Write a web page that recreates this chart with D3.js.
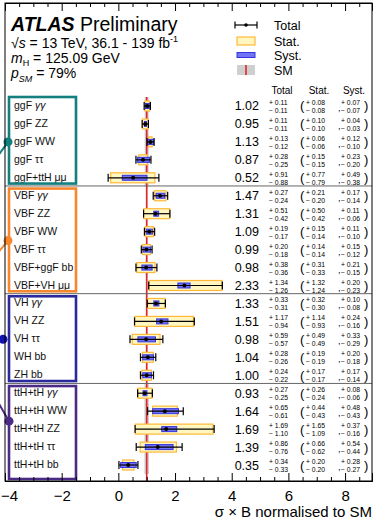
<!DOCTYPE html>
<html>
<head>
<meta charset="utf-8">
<script src="https://cdn.jsdelivr.net/npm/d3@7"></script>
<style>
  body { margin: 0; background: #fff; }
  svg { display: block; font-family: "Liberation Sans", Arial, Helvetica, sans-serif; }
</style>
</head>
<body>
<svg id="chart" width="374" height="520"></svg>
<script>
// measurements, top to bottom
const labels = [
  'ggF γγ', 'ggF ZZ', 'ggF WW', 'ggF ττ', 'ggF+ttH μμ',
  'VBF γγ', 'VBF ZZ', 'VBF WW', 'VBF ττ', 'VBF+ggF bb', 'VBF+VH μμ',
  'VH γγ', 'VH ZZ', 'VH ττ', 'WH bb', 'ZH bb',
  'ttH+tH γγ', 'ttH+tH WW', 'ttH+tH ZZ', 'ttH+tH ττ', 'ttH+tH bb'
];
const central = [1.02, 0.95, 1.13, 0.87, 0.52, 1.47, 1.31, 1.09, 0.99, 0.98, 2.33,
                 1.33, 1.51, 0.98, 1.04, 1.00, 0.93, 1.64, 1.69, 1.39, 0.35];
const totUp  = [0.11, 0.11, 0.13, 0.28, 0.91, 0.27, 0.51, 0.19, 0.20, 0.38, 1.34,
                0.33, 1.17, 0.59, 0.28, 0.24, 0.27, 0.65, 1.69, 0.86, 0.34];
const totDn  = [0.11, 0.11, 0.12, 0.25, 0.88, 0.24, 0.42, 0.17, 0.18, 0.36, 1.26,
                0.31, 0.94, 0.57, 0.26, 0.22, 0.25, 0.61, 1.10, 0.76, 0.33];
const statUp = [0.08, 0.10, 0.06, 0.15, 0.77, 0.21, 0.50, 0.15, 0.14, 0.31, 1.32,
                0.32, 1.14, 0.49, 0.19, 0.17, 0.26, 0.44, 1.65, 0.66, 0.20];
const statDn = [0.08, 0.10, 0.06, 0.15, 0.79, 0.20, 0.42, 0.14, 0.14, 0.33, 1.24,
                0.30, 0.93, 0.49, 0.19, 0.17, 0.24, 0.43, 1.09, 0.62, 0.20];
const systUp = [0.07, 0.04, 0.12, 0.23, 0.49, 0.17, 0.11, 0.11, 0.15, 0.21, 0.20,
                0.10, 0.24, 0.33, 0.20, 0.17, 0.08, 0.48, 0.37, 0.54, 0.28];
const systDn = [0.07, 0.03, 0.10, 0.20, 0.38, 0.14, 0.06, 0.10, 0.12, 0.15, 0.23,
                0.08, 0.16, 0.29, 0.18, 0.14, 0.06, 0.43, 0.16, 0.44, 0.27];
// SM prediction uncertainty (grey band), estimated
const smUnc  = [0.07, 0.07, 0.07, 0.07, 0.07, 0.03, 0.03, 0.03, 0.03, 0.04, 0.03,
                0.03, 0.03, 0.03, 0.03, 0.03, 0.08, 0.08, 0.08, 0.08, 0.08];

const groupNames = ['ggF', 'VBF', 'VH', 'ttH'];
const groupSizes = [5, 6, 5, 5];
const groupColors = ['#13807f', '#f7872e', '#2b2a9c', '#4b2b86'];

const xTicks = [-4, -2, 0, 2, 4, 6, 8];

const svg = d3.select('#chart');
const font = '"Liberation Sans", Arial, Helvetica, sans-serif';
const axisY = 481, topY = 3;

const x = d3.scaleLinear().domain([-4, 8.95]).range([5, 372]);
const y = d3.scaleBand().domain(d3.range(labels.length)).range([97, 474]);
const cy = i => y(i) + y.bandwidth() / 2;
const f2 = d3.format('.2f');

// group start indices
const groupStart = groupSizes.map((s, i) => d3.sum(groupSizes.slice(0, i)));

// SM grey band and red line
svg.append('g').selectAll('rect')
  .data(d3.range(labels.length))
  .join('rect')
  .attr('x', i => x(1 - smUnc[i]))
  .attr('width', i => x(1 + smUnc[i]) - x(1 - smUnc[i]))
  .attr('y', i => y(i))
  .attr('height', y.bandwidth())
  .attr('fill', '#cfcfcf');

svg.append('line')
  .attr('x1', x(1)).attr('x2', x(1))
  .attr('y1', y(0)).attr('y2', axisY)
  .attr('stroke', '#e3262a').attr('stroke-width', 1.6);

// group separators
svg.append('g').selectAll('line')
  .data(groupStart.slice(1))
  .join('line')
  .attr('x1', x.range()[0]).attr('x2', x.range()[1])
  .attr('y1', s => y(s) - 0.8).attr('y2', s => y(s) - 0.8)
  .attr('stroke', '#666').attr('stroke-width', 1);

// measurement marks
const rows = svg.append('g').selectAll('g')
  .data(d3.range(labels.length))
  .join('g');

rows.append('rect')
  .attr('x', i => x(central[i] - statDn[i]))
  .attr('width', i => x(central[i] + statUp[i]) - x(central[i] - statDn[i]))
  .attr('y', i => cy(i) - 5)
  .attr('height', 10)
  .attr('fill', '#fff6c0')
  .attr('stroke', '#ffb938')
  .attr('stroke-width', 1.2);

rows.append('rect')
  .attr('x', i => x(central[i] - systDn[i]))
  .attr('width', i => x(central[i] + systUp[i]) - x(central[i] - systDn[i]))
  .attr('y', i => cy(i) - 2.5)
  .attr('height', 5)
  .attr('fill', '#7272f4')
  .attr('stroke', '#3434e0')
  .attr('stroke-width', 1);

rows.append('line')
  .attr('x1', i => x(central[i] - totDn[i]))
  .attr('x2', i => x(central[i] + totUp[i]))
  .attr('y1', cy).attr('y2', cy)
  .attr('stroke', '#000').attr('stroke-width', 1.2);

['lo', 'hi'].forEach(side => {
  rows.append('line')
    .attr('x1', i => side === 'lo' ? x(central[i] - totDn[i]) : x(central[i] + totUp[i]))
    .attr('x2', i => side === 'lo' ? x(central[i] - totDn[i]) : x(central[i] + totUp[i]))
    .attr('y1', i => cy(i) - 4).attr('y2', i => cy(i) + 4)
    .attr('stroke', '#000').attr('stroke-width', 1.2);
});

rows.append('circle')
  .attr('cx', i => x(central[i]))
  .attr('cy', cy)
  .attr('r', 2)
  .attr('fill', '#000');

// row labels
const lab = svg.append('g').selectAll('text')
  .data(d3.range(labels.length))
  .join('text')
  .attr('x', 14)
  .attr('y', i => cy(i) + 3)
  .attr('font-size', 10.5)
  .attr('fill', '#111');
lab.each(function (i) {
  const t = d3.select(this);
  const s = labels[i];
  if (s.endsWith('γγ')) {
    t.append('tspan').text(s.slice(0, -2));
    t.append('tspan').attr('font-style', 'italic').text('γγ');
  } else {
    t.text(s);
  }
});

// value columns
const vals = svg.append('g').selectAll('g')
  .data(d3.range(labels.length))
  .join('g')
  .attr('transform', i => `translate(0,${cy(i)})`);

vals.append('text').attr('x', 259).attr('y', 4.5).attr('text-anchor', 'end')
  .attr('font-size', 12.5).text(i => f2(central[i]));

const small = (sel, xPos, up, dn) => {
  sel.append('text').attr('x', xPos).attr('y', -1).attr('font-size', 6.8)
    .text(i => '+ ' + f2(up[i]));
  sel.append('text').attr('x', xPos).attr('y', 7).attr('font-size', 6.8)
    .text(i => '− ' + f2(dn[i]));
};
small(vals, 269, totUp, totDn);
small(vals, 306, statUp, statDn);
small(vals, 341, systUp, systDn);

vals.append('text').attr('x', 300).attr('y', 4.5).attr('font-size', 13).text('(');
vals.append('text').attr('x', 338).attr('y', 5).attr('font-size', 9).text(',');
vals.append('text').attr('x', 364).attr('y', 4.5).attr('font-size', 13).text(')');

svg.append('g').selectAll('text')
  .data([['Total', 282], ['Stat.', 319], ['Syst.', 354]])
  .join('text')
  .attr('x', d => d[1]).attr('y', 94)
  .attr('text-anchor', 'middle')
  .attr('font-size', 10)
  .text(d => d[0]);

// group boxes
const boxTop = k => k === 0 ? y(0) : y(groupStart[k]) + 1.8;
const boxBot = k => k === groupNames.length - 1 ? axisY - 2 : y(groupStart[k + 1]) - 3.2;
svg.append('g').selectAll('rect')
  .data(groupNames)
  .join('rect')
  .attr('x', 9)
  .attr('width', 67)
  .attr('y', (g, k) => boxTop(k))
  .attr('height', (g, k) => boxBot(k) - boxTop(k))
  .attr('fill', 'none')
  .attr('stroke', (g, k) => groupColors[k])
  .attr('stroke-width', 2.6);

// connectors going out to the left
const connY = [cy(2), (cy(7) + cy(8)) / 2, cy(13), (cy(17) + cy(18)) / 2 + 1];
const connX = [8, 8, 3, 9];
const connEndDy = [14, 12, 0, -19];
groupNames.forEach((g, k) => {
  svg.append('line')
    .attr('x1', connX[k]).attr('y1', connY[k])
    .attr('x2', -2).attr('y2', connY[k] + connEndDy[k])
    .attr('stroke', groupColors[k]).attr('stroke-width', 2);
  svg.append('circle')
    .attr('cx', connX[k]).attr('cy', connY[k]).attr('r', 4.5)
    .attr('fill', k === 2 ? '#1414b0' : groupColors[k]);
});

// frame and axes
svg.append('rect')
  .attr('x', x.range()[0]).attr('y', topY)
  .attr('width', x.range()[1] - x.range()[0])
  .attr('height', axisY - topY)
  .attr('fill', 'none').attr('stroke', '#000').attr('stroke-width', 1);

const minor = d3.range(-4, 9, 0.5).filter(v => v % 2 !== 0);

const bottomAxis = svg.append('g').attr('transform', `translate(0,${axisY})`);
bottomAxis.call(d3.axisBottom(x).tickValues(xTicks).tickSize(-8).tickPadding(9));
bottomAxis.append('g').call(d3.axisBottom(x).tickValues(minor).tickSize(-4).tickFormat(''));
bottomAxis.selectAll('.domain').attr('stroke', '#000');
bottomAxis.selectAll('text').attr('font-size', 15).attr('font-family', font).attr('fill', '#000');
// leftmost label sits on the frame edge: keep it inside the page
bottomAxis.selectAll('.tick text').filter(d => d === -4)
  .attr('text-anchor', 'start').attr('x', 0.5 - x(-4));

const topAxis = svg.append('g').attr('transform', `translate(0,${topY})`);
topAxis.call(d3.axisTop(x).tickValues(xTicks).tickSize(-8).tickFormat(''));
topAxis.append('g').call(d3.axisTop(x).tickValues(minor).tickSize(-4).tickFormat(''));

svg.append('text')
  .attr('x', 372).attr('y', 517)
  .attr('text-anchor', 'end')
  .attr('font-size', 15)
  .text('σ × B normalised to SM');

// header
const hdr = svg.append('g');
const t1 = hdr.append('text').attr('x', 11).attr('y', 31).attr('font-size', 19.5);
t1.append('tspan').attr('font-weight', 'bold').attr('font-style', 'italic').text('ATLAS');
t1.append('tspan').text(' Preliminary');

const t2 = hdr.append('text').attr('x', 11).attr('y', 48).attr('font-size', 14);
t2.append('tspan').text('√');
t2.append('tspan').attr('font-style', 'italic').text('s');
t2.append('tspan').text(' = 13 TeV, 36.1 - 139 fb');
t2.append('tspan').attr('font-size', 9).attr('dy', -6).text('-1');

const t3 = hdr.append('text').attr('x', 11).attr('y', 63).attr('font-size', 14);
t3.append('tspan').attr('font-style', 'italic').text('m');
t3.append('tspan').attr('font-size', 9).attr('dy', 3).text('H');
t3.append('tspan').attr('dy', -3).text(' = 125.09 GeV');

const t4 = hdr.append('text').attr('x', 11).attr('y', 78).attr('font-size', 14);
t4.append('tspan').attr('font-style', 'italic').text('p');
t4.append('tspan').attr('font-size', 9).attr('font-style', 'italic').attr('dy', 4).text('SM');
t4.append('tspan').attr('dy', -4).text(' = 79%');

// legend
const lg = svg.append('g');
const lx0 = 235, lx1 = 257, ltx = 274;
const legY = [25, 41, 55, 70];
lg.append('line').attr('x1', lx0).attr('x2', lx1).attr('y1', legY[0]).attr('y2', legY[0])
  .attr('stroke', '#000').attr('stroke-width', 1.2);
[lx0, lx1].forEach(v => lg.append('line').attr('x1', v).attr('x2', v)
  .attr('y1', legY[0] - 3.5).attr('y2', legY[0] + 3.5).attr('stroke', '#000').attr('stroke-width', 1.2));
lg.append('circle').attr('cx', (lx0 + lx1) / 2).attr('cy', legY[0]).attr('r', 1.8).attr('fill', '#000');
lg.append('rect').attr('x', lx0 + 2).attr('y', legY[1] - 4).attr('width', 18).attr('height', 8)
  .attr('fill', '#fff6c0').attr('stroke', '#ffb938').attr('stroke-width', 1.2);
lg.append('rect').attr('x', lx0 + 2).attr('y', legY[2] - 2.5).attr('width', 18).attr('height', 5)
  .attr('fill', '#7272f4').attr('stroke', '#3434e0');
lg.append('rect').attr('x', lx0 + 2).attr('y', legY[3] - 5).attr('width', 18).attr('height', 10)
  .attr('fill', '#cfcfcf');
lg.append('line').attr('x1', lx0 + 11).attr('x2', lx0 + 11).attr('y1', legY[3] - 5).attr('y2', legY[3] + 5)
  .attr('stroke', '#e3262a').attr('stroke-width', 1.6);
lg.selectAll('text.lt')
  .data(['Total', 'Stat.', 'Syst.', 'SM'])
  .join('text')
  .attr('class', 'lt')
  .attr('x', ltx).attr('y', (d, k) => legY[k] + 4.5)
  .attr('font-size', 12.5)
  .text(d => d);
</script>
</body>
</html>
